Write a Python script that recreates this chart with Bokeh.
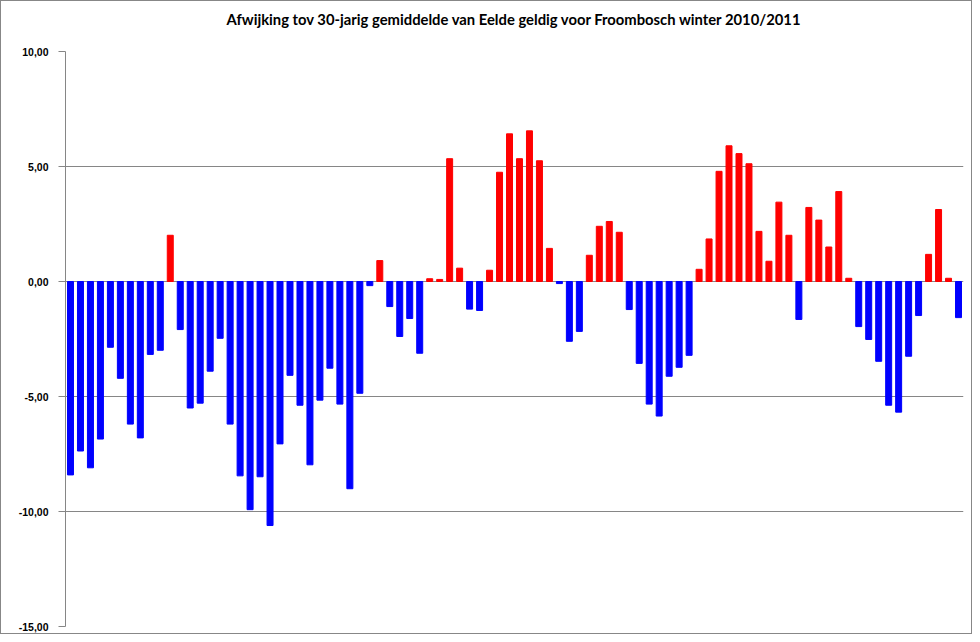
from bokeh.plotting import figure
from bokeh.models import ColumnDataSource, FixedTicker, CustomJSTickFormatter, Range1d, Title
from bokeh.embed import file_html
from bokeh.resources import INLINE

title_text = "Afwijking tov 30-jarig gemiddelde van Eelde geldig voor Froombosch winter 2010/2011"

days = list(range(1, 91))
deviation = [
    -8.41, -7.37, -8.10, -6.85, -2.86, -4.21, -6.20, -6.80, -3.17, -2.99,
    2.01, -2.09, -5.50, -5.29, -3.90, -2.47, -6.20, -8.45, -9.92, -8.49,
    -10.61, -7.06, -4.08, -5.38, -7.97, -5.16, -3.77, -5.33, -9.01, -4.86,
    -0.18, 0.91, -1.09, -2.39, -1.61, -3.12, 0.12, 0.09, 5.34, 0.58,
    -1.20, -1.26, 0.49, 4.75, 6.42, 5.34, 6.55, 5.25, 1.44, -0.09,
    -2.60, -2.17, 1.14, 2.40, 2.61, 2.14, -1.22, -3.56, -5.33, -5.85,
    -4.12, -3.73, -3.21, 0.53, 1.85, 4.79, 5.90, 5.56, 5.12, 2.18,
    0.88, 3.45, 2.01, -1.65, 3.22, 2.67, 1.50, 3.91, 0.14, -1.96,
    -2.52, -3.47, -5.38, -5.68, -3.25, -1.48, 1.18, 3.13, 0.14, -1.57,
]
y_ticks = [-15, -10, -5, 0, 5, 10]

colors = ["#FF0000" if v > 0 else "#0000FF" for v in deviation]
source = ColumnDataSource(dict(x=days, top=deviation, color=colors))

p = figure(
    width=972, height=634, title=None,
    x_range=Range1d(0.5, len(days) + 0.5),
    y_range=Range1d(y_ticks[0], y_ticks[-1]),
    output_backend="svg", toolbar_location=None,
    min_border_left=64, min_border_right=10,
    min_border_top=50, min_border_bottom=9,
)
p.styles = {"border": "1px solid #878787"}

p.vbar(x="x", top="top", bottom=0, width=0.6, color="color", source=source)

# spacer between the title and the plot area (closest to the frame)
p.add_layout(Title(text=" ", text_font_size="1px", standoff=21), "above")
p.add_layout(Title(
    text=title_text, align="center", text_font="Lato", text_font_style="bold",
    text_font_size="14.8px", text_color="#000000", standoff=0,
), "above")

p.xaxis.visible = False
p.xgrid.visible = False
p.outline_line_color = None

p.yaxis.ticker = FixedTicker(ticks=y_ticks)
p.yaxis.formatter = CustomJSTickFormatter(code="return tick.toFixed(2).replace('.', ',');")
p.yaxis.axis_line_color = "#868686"
p.yaxis.major_tick_line_color = "#868686"
p.yaxis.major_tick_out = 7
p.yaxis.major_tick_in = 0
p.yaxis.minor_tick_line_color = None
p.yaxis.major_label_standoff = 10
p.yaxis.major_label_text_font = "Liberation Sans"
p.yaxis.major_label_text_font_style = "bold"
p.yaxis.major_label_text_font_size = "10.5px"
p.yaxis.major_label_text_color = "#000000"

p.ygrid.ticker = FixedTicker(ticks=y_ticks)
p.ygrid.grid_line_color = "#868686"
p.ygrid.grid_line_width = 1

open("out.html", "w").write(file_html(p, INLINE))
